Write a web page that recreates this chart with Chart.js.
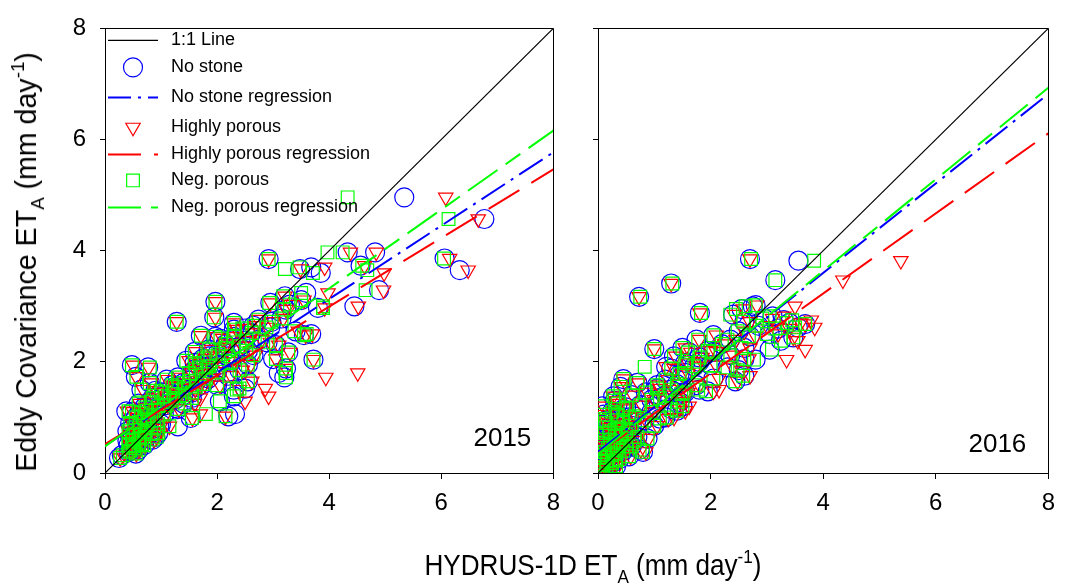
<!DOCTYPE html>
<html>
<head>
<meta charset="utf-8">
<script src="https://cdn.jsdelivr.net/npm/chart.js@4.4.0/dist/chart.umd.min.js"></script>
<style>
  body { margin: 0; background: #fff; width: 1065px; height: 588px; overflow: hidden; position: relative;
         font-family: 'Liberation Sans', Arial, sans-serif; }
  .panel { position: absolute; top: 0; height: 588px; }
  #left { left: 0; width: 570px; }
  #right { left: 560px; width: 505px; }
  .title { position: absolute; font-size: 29px; color: #000; white-space: nowrap; text-align: center; }
  .title .sub { font-size: 19px; position: relative; top: 8px; }
  .title .sup { font-size: 19px; position: relative; top: -12px; }
  #xtitle { left: 343px; width: 500px; top: 551px; line-height: 29px; transform: scaleX(0.9); }
  #ytitle { left: -222px; top: 243px; width: 500px; line-height: 34px; transform: rotate(-90deg) scaleX(0.985); }
</style>
</head>
<body>
<div class="panel" id="left"><canvas id="chart2015"></canvas></div>
<div class="panel" id="right"><canvas id="chart2016"></canvas></div>
<div class="title" id="ytitle">Eddy Covariance ET<span class="sub">A</span> (mm day<span class="sup">-1</span>)</div>
<div class="title" id="xtitle">HYDRUS-1D ET<span class="sub">A</span> (mm day<span class="sup">-1</span>)</div>
<script>
const tickVals = [0, 2, 4, 6, 8]

// 2015: eddy covariance ET (y) and HYDRUS ET (x) for each stone treatment
const ec2015 = [4.96,4.57,3.86,3.65,3.97,3.97,3.73,3.60,3.67,3.85,3.70,3.29,3.00,2.97,3.24,3.11,2.04,1.80,1.72,1.88,
  2.17,1.52,1.38,1.29,1.02,0.99,0.84,1.06,2.72,3.08,2.80,2.47,2.45,1.94,1.90,1.73,1.11,0.27,
  3.06,3.18,3.03,2.94,2.76,2.70,2.72,2.78,2.60,2.55,2.48,2.50,2.45,2.40,2.35,2.62,2.28,2.20,2.30,2.10,2.12,2.25,2.05,
  2.18,2.10,2.02,1.95,1.90,1.85,1.80,1.75,1.70,1.65,1.62,1.58,1.55,1.50,2.00,1.95,
  1.68,1.62,1.55,1.50,1.45,1.40,1.35,1.30,1.25,1.20,1.15,1.12,1.05,1.45,1.00,
  0.95,0.90,0.85,0.80,0.75,0.70,0.65,0.60,0.55,0.50,0.45,0.40,0.35,0.60,0.72,0.88,0.50,1.10,
  0.32,0.38,0.42,0.48,0.52,0.58,0.62,0.68,0.70,0.78,0.82,0.86,0.92,0.98,1.02,1.08,1.14,1.18,0.75,0.65,
  1.22,1.28,1.32,1.38,1.42,1.48,1.52,1.58,1.60,1.66,1.72,1.78,1.82,1.86,1.92,1.98,2.06,2.14,2.22,2.32,
  2.38,2.42,2.52,2.58,2.65,1.35,1.25]
const noStone2015 = [5.34,6.77,6.06,6.33,4.33,4.82,4.56,3.85,3.48,2.92,3.68,4.89,4.45,3.80,3.59,3.50,3.72,3.10,3.20,3.23,
  3.27,2.50,2.30,2.05,2.20,1.53,1.30,2.32,1.28,1.97,1.95,1.71,1.97,0.48,0.77,0.55,0.38,0.25,
  2.95,3.21,3.30,3.23,2.74,2.30,2.97,3.15,2.50,3.40,3.55,3.68,2.30,2.75,2.90,2.95,2.40,2.55,3.05,2.20,2.65,2.12,3.00,
  1.60,1.85,1.45,2.05,1.70,2.40,1.55,2.20,1.85,2.55,1.40,2.00,1.65,2.30,2.25,2.55,
  1.10,0.80,1.25,0.65,1.00,1.40,0.85,1.15,0.60,0.95,1.30,0.75,1.05,1.55,0.55,
  0.78,0.45,0.62,0.88,0.40,0.55,0.70,0.48,0.60,0.42,0.52,0.45,0.55,0.85,0.95,1.00,0.70,0.48,
  0.30,0.42,0.60,0.50,0.65,0.40,0.58,0.48,0.80,0.62,0.50,0.75,0.60,0.68,0.85,0.62,0.90,0.70,0.70,0.90,
  1.10,0.80,1.25,1.05,1.20,0.90,1.40,1.20,1.75,1.50,1.30,1.75,2.00,1.60,1.85,1.60,1.75,2.00,1.85,2.15,
  2.50,2.05,2.60,2.30,2.65,1.55,1.40]
const highPor2015 = [6.08,6.66,6.15,6.48,4.38,4.84,4.63,4.98,3.49,2.92,3.92,4.97,4.52,3.92,3.98,3.55,3.72,4.51,3.94,3.23,
  3.30,2.86,2.92,2.50,2.15,1.56,1.15,1.70,1.28,1.97,1.97,1.71,1.99,0.50,0.78,0.56,0.40,0.27,
  2.95,3.21,3.32,3.23,2.74,2.30,3.00,3.18,2.50,3.45,3.58,3.70,2.32,2.80,2.95,2.90,2.45,2.60,3.10,2.25,2.68,2.12,3.05,
  1.62,1.90,1.50,2.10,1.72,2.45,1.55,2.25,1.90,2.62,1.42,2.05,1.68,2.40,2.30,2.60,
  1.12,0.82,1.28,0.68,1.05,1.42,0.88,1.20,0.62,0.98,1.32,0.78,1.08,1.58,0.58,
  0.80,0.48,0.65,0.90,0.42,0.58,0.72,0.50,0.62,0.45,0.55,0.48,0.56,0.88,0.98,1.02,0.72,0.50,
  0.32,0.44,0.62,0.52,0.66,0.42,0.60,0.50,0.82,0.64,0.52,0.78,0.62,0.70,0.88,0.64,0.92,0.72,0.72,0.92,
  1.12,0.82,1.28,1.08,1.25,0.92,1.45,1.22,1.78,1.52,1.32,1.80,2.05,1.62,1.90,1.62,1.80,2.05,1.90,2.20,
  2.55,2.10,2.65,2.35,2.70,1.70,1.60]
const negPor2015 = [4.33,6.13,6.05,4.68,4.24,3.97,4.59,3.71,3.21,2.92,3.47,4.65,3.89,3.89,3.50,3.50,3.72,3.22,3.23,3.23,
  3.27,2.40,2.30,2.05,2.15,1.55,1.15,1.80,1.28,1.97,1.94,1.71,1.97,0.48,0.80,0.56,0.42,0.27,
  2.93,3.18,3.30,3.20,2.74,2.30,2.97,3.15,2.45,3.38,3.55,3.60,2.30,2.75,2.90,2.88,2.40,2.52,3.05,2.20,2.65,2.15,3.05,
  1.60,1.88,1.45,2.05,1.70,2.40,1.50,2.22,1.80,2.55,1.40,2.00,1.62,2.35,2.25,2.55,
  1.10,0.80,1.25,0.65,1.00,1.38,0.85,1.15,0.60,0.95,1.30,0.75,1.05,1.55,0.55,
  0.78,0.45,0.62,0.88,0.42,0.55,0.70,0.48,0.60,0.42,0.52,0.45,0.55,0.85,0.95,0.95,0.70,0.48,
  0.32,0.42,0.60,0.50,0.66,0.42,0.60,0.50,0.82,0.64,0.52,0.76,0.62,0.70,0.86,0.64,0.90,0.72,0.72,0.92,
  1.10,0.82,1.26,1.06,1.22,0.92,1.42,1.20,1.75,1.50,1.30,1.76,2.02,1.62,1.86,1.60,1.76,2.02,1.86,2.16,
  2.52,2.06,2.62,2.32,2.66,1.55,1.42]

// 2016
const ec2016 = [3.85,3.82,3.41,3.17,3.47,2.88,3.00,2.75,2.68,2.44,2.22,2.04,2.23,1.91,1.69,1.38,0.94,0.00,3.02,2.95,2.85,
  2.82,2.78,2.72,2.70,2.65,2.60,2.55,2.50,2.46,2.40,2.38,2.62,
  2.48,2.40,2.32,2.25,2.20,2.17,2.12,2.05,2.00,1.94,1.92,1.90,1.85,1.80,1.75,1.70,1.65,1.58,1.50,1.47,1.42,2.10,2.25,
  1.62,1.58,1.55,1.50,1.45,1.40,1.35,1.30,1.28,1.22,1.18,1.15,1.10,1.05,1.02,1.00,0.95,0.90,0.85,0.82,1.45,
  0.78,0.75,0.72,0.68,0.65,0.60,0.58,0.55,0.50,0.48,0.45,0.42,0.40,0.35,0.32,0.30,0.25,0.22,0.18,0.15,0.12,0.10,0.05,0.62,0.38,0.52,0.28,
  0.05,0.10,0.15,0.20,0.22,0.28,0.32,0.38,0.42,0.45,0.50,0.55,0.60,0.65,0.70,0.75,0.80,0.85,0.90,0.95,
  1.00,1.05,1.10,1.15,1.20,1.25,0.58,0.48,
  1.32,1.40,1.52,1.60,1.68,1.78,1.88,1.98,2.08,2.18,0.98,1.12,1.20]
const noStone2016 = [2.70,3.56,1.30,0.73,3.15,1.81,2.75,3.30,3.68,3.47,3.05,2.80,1.00,1.21,0.45,0.27,0.12,0.22,2.80,2.55,2.40,
  3.10,2.95,2.60,3.40,2.85,3.20,2.50,3.05,2.70,2.35,3.25,3.55,
  2.05,1.75,2.20,1.50,1.95,1.62,2.35,2.60,1.80,2.00,1.71,2.30,2.50,1.55,2.60,2.05,2.44,1.75,1.80,1.95,1.50,1.35,2.60,
  0.70,1.05,0.40,1.30,0.85,0.60,1.10,0.30,1.45,0.75,0.50,1.30,0.95,0.35,0.65,1.20,0.82,0.45,1.00,0.20,1.55,
  0.30,0.55,0.12,0.40,0.70,0.22,0.50,0.08,0.35,0.60,0.18,0.74,0.45,0.28,0.10,0.55,0.38,0.15,0.25,0.05,0.32,0.15,0.08,0.88,0.80,0.05,0.02,
  0.02,0.05,0.10,0.08,0.30,0.18,0.25,0.12,0.35,0.05,0.22,0.40,0.10,0.30,0.50,0.20,0.40,0.60,0.15,0.35,
  0.55,0.10,0.25,0.45,0.08,0.35,0.65,0.50,
  0.95,1.20,1.05,1.40,1.20,1.45,1.30,1.55,1.80,2.05,1.10,1.40,1.50]
const highPor2016 = [2.70,5.38,1.30,0.73,4.35,1.81,3.50,3.79,3.68,3.47,3.68,3.35,1.00,1.21,0.45,0.27,0.12,0.22,2.82,2.58,2.42,
  3.30,3.10,2.70,3.60,3.00,3.40,2.60,3.20,2.80,2.45,3.55,3.85,
  2.10,1.80,2.25,1.55,2.00,1.65,2.40,2.68,1.85,2.10,1.75,2.40,2.55,1.60,2.70,2.15,2.48,1.80,2.15,2.05,1.55,1.38,2.70,
  0.72,1.08,0.42,1.35,0.88,0.62,1.15,0.32,1.50,0.78,0.52,1.45,1.00,0.38,0.68,1.35,0.85,0.48,1.05,0.22,1.60,
  0.32,0.58,0.12,0.42,0.72,0.24,0.52,0.10,0.38,0.62,0.20,0.76,0.48,0.30,0.12,0.58,0.40,0.18,0.28,0.08,0.35,0.18,0.10,0.90,0.85,0.06,0.03,
  0.03,0.06,0.12,0.10,0.32,0.20,0.28,0.14,0.38,0.06,0.24,0.42,0.12,0.32,0.52,0.22,0.42,0.62,0.16,0.38,
  0.58,0.12,0.28,0.48,0.10,0.38,0.68,0.55,
  1.00,1.25,1.10,1.45,1.25,1.50,1.35,1.60,1.85,2.10,1.25,1.55,1.62]
const negPor2016 = [2.72,3.84,1.32,0.75,3.15,1.83,2.62,3.45,3.68,3.47,3.09,2.77,1.00,0.83,0.45,0.27,0.12,0.22,2.80,2.45,2.35,
  3.05,2.92,2.58,3.35,2.82,3.15,2.48,3.00,2.68,2.30,3.25,3.50,
  2.05,1.78,2.20,1.50,1.95,1.60,2.35,2.60,1.80,2.00,1.71,2.30,2.48,1.55,2.58,2.05,2.44,1.75,1.78,1.92,1.48,1.35,2.55,
  0.70,1.05,0.40,1.30,0.85,0.60,1.10,0.30,1.42,0.75,0.50,1.30,0.95,0.35,0.65,1.22,0.82,0.45,1.00,0.20,1.52,
  0.30,0.55,0.12,0.40,0.70,0.22,0.50,0.08,0.35,0.60,0.18,0.74,0.45,0.28,0.10,0.55,0.38,0.15,0.25,0.05,0.32,0.15,0.08,0.88,0.80,0.05,0.02,
  0.02,0.05,0.10,0.08,0.30,0.18,0.25,0.12,0.35,0.05,0.22,0.40,0.10,0.30,0.50,0.20,0.40,0.60,0.15,0.35,
  0.55,0.10,0.25,0.45,0.08,0.35,0.65,0.50,
  0.95,1.20,1.05,1.40,1.20,1.45,1.30,1.55,1.80,2.05,1.10,1.40,1.50]

// regression lines: no stone, highly porous, neg. porous
const intercept2015 = [0.49, 0.52, 0.48]
const slope2015 = [0.66, 0.618, 0.71]
const intercept2016 = [0.38, 0.35, 0.34]
const slope2016 = [0.805, 0.72, 0.824]

const FONT = "'Liberation Sans', Arial, sans-serif"
const BLUE = '#0000ff', RED = '#ff0000', GREEN = '#00ff00'
const DASH_BLUE = [28, 7, 3, 7], DASH_RED = [36, 14], DASH_GREEN = [36, 10, 18, 10]

function pts(xs, ys) {
    return xs.map((x, i) => ({ x: x, y: ys[i] }))
}

function markerSet(label, data, style, color, radius, rotation, order) {
    return {
        label: label, data: data, order: order, showLine: false,
        pointStyle: style, pointRadius: radius, pointRotation: rotation,
        pointBorderColor: color, pointBackgroundColor: 'rgba(0,0,0,0)', pointBorderWidth: 1.2
    }
}

function fitLine(label, a, b, color, dash, order) {
    const ends = [tickVals[0], tickVals[tickVals.length - 1]]
    return {
        label: label, data: ends.map(x => ({ x: x, y: a + b * x })), order: order, showLine: true,
        borderColor: color, borderWidth: 2, borderDash: dash, pointRadius: 0, fill: false
    }
}

const legendItems = [
    { text: '1:1 Line', line: '#000', dash: [], w: 1.2, dy: 12 },
    { text: 'No stone', marker: 'circle', color: BLUE, r: 9.5, rot: 0, dy: 39 },
    { text: 'No stone regression', line: BLUE, dash: [23, 7, 3, 7], w: 2, dy: 69 },
    { text: 'Highly porous', marker: 'triangle', color: RED, r: 8.3, rot: 180, dy: 99 },
    { text: 'Highly porous regression', line: RED, dash: [33, 13], w: 2, dy: 126 },
    { text: 'Neg. porous', marker: 'rect', color: GREEN, r: 9, rot: 0, dy: 152 },
    { text: 'Neg. porous regression', line: GREEN, dash: [33, 10, 13, 10], w: 2, dy: 179 }
]

const framePlugin = {
    id: 'frame',
    afterDraw(chart, args, opts) {
        const ctx = chart.ctx, a = chart.chartArea
        ctx.save()
        ctx.strokeStyle = '#000'
        ctx.lineWidth = 1
        ctx.beginPath()
        ctx.moveTo(Math.round(a.left) + 0.5, Math.round(a.top) + 0.5)
        ctx.lineTo(Math.round(a.right) + 0.5, Math.round(a.top) + 0.5)
        ctx.lineTo(Math.round(a.right) + 0.5, Math.round(a.bottom) + 0.5)
        ctx.stroke()
        // year label
        ctx.fillStyle = '#000'
        ctx.font = '26px ' + FONT
        ctx.textAlign = 'right'
        ctx.textBaseline = 'middle'
        ctx.fillText(opts.year, a.right - 22, a.bottom - opts.yearOffset)
        // legend
        if (opts.legend) {
            ctx.font = '18px ' + FONT
            ctx.textAlign = 'left'
            legendItems.forEach(it => {
                const y = a.top + it.dy
                if (it.line) {
                    ctx.save()
                    ctx.strokeStyle = it.line
                    ctx.lineWidth = it.w
                    ctx.setLineDash(it.dash)
                    ctx.beginPath()
                    ctx.moveTo(a.left + 3, y)
                    ctx.lineTo(a.left + 53, y)
                    ctx.stroke()
                    ctx.restore()
                } else {
                    ctx.save()
                    ctx.strokeStyle = it.color
                    ctx.fillStyle = 'rgba(0,0,0,0)'
                    ctx.lineWidth = 1.2
                    Chart.helpers.drawPoint(ctx, { pointStyle: it.marker, radius: it.r, rotation: it.rot, borderWidth: 1.2 }, a.left + 28, y)
                    ctx.restore()
                }
                ctx.fillStyle = '#000'
                ctx.fillText(it.text, a.left + 66, y)
            })
        }
        ctx.restore()
    }
}

function makeChart(id, year, ec, ns, hp, np, icpt, slp, cfg) {
    const datasets = [
        fitLine('1:1 Line', 0, 1, '#000', [], 0),
        fitLine('Neg. porous regression', icpt[2], slp[2], GREEN, DASH_GREEN, 1),
        fitLine('Highly porous regression', icpt[1], slp[1], RED, DASH_RED, 2),
        fitLine('No stone regression', icpt[0], slp[0], BLUE, DASH_BLUE, 3),
        markerSet('Neg. porous', pts(np, ec), 'rect', GREEN, 9, 0, 4),
        markerSet('Highly porous', pts(hp, ec), 'triangle', RED, 8.3, 180, 5),
        markerSet('No stone', pts(ns, ec), 'circle', BLUE, 9.5, 0, 6)
    ]
    datasets[0].borderWidth = 1.2
    const tickFont = { family: FONT, size: 24 }
    return new Chart(document.getElementById(id), {
        type: 'scatter',
        data: { datasets: datasets },
        options: {
            responsive: true,
            maintainAspectRatio: false,
            animation: false,
            events: [],
            layout: { padding: { left: 0, right: cfg.padRight, top: 20, bottom: 0 } },
            plugins: {
                legend: { display: false },
                tooltip: { enabled: false },
                frame: { year: year, yearOffset: cfg.yearOffset, legend: cfg.legend }
            },
            scales: {
                x: {
                    type: 'linear', min: 0, max: 8,
                    afterBuildTicks: s => { s.ticks = tickVals.map(v => ({ value: v })) },
                    ticks: { font: tickFont, color: '#000', padding: 10, maxRotation: 0 },
                    grid: { drawOnChartArea: false, drawTicks: true, tickLength: 6, color: '#000', lineWidth: 1 },
                    border: { display: true, color: '#000', width: 1 },
                    afterFit: s => { s.height = 115 }
                },
                y: {
                    type: 'linear', min: 0, max: 8,
                    afterBuildTicks: s => { s.ticks = tickVals.map(v => ({ value: v })) },
                    ticks: { font: tickFont, color: '#000', padding: 14,
                             callback: v => cfg.yLabels ? String(v) : '' },
                    grid: { drawOnChartArea: false, drawTicks: true, tickLength: 5, color: '#000', lineWidth: 1 },
                    border: { display: true, color: '#000', width: 1 },
                    afterFit: s => { s.width = cfg.yWidth }
                }
            }
        },
        plugins: [framePlugin]
    })
}

makeChart('chart2015', '2015', ec2015, noStone2015, highPor2015, negPor2015, intercept2015, slope2015,
    { padRight: 13, yWidth: 105, yLabels: true, legend: true, yearOffset: 34 })
makeChart('chart2016', '2016', ec2016, noStone2016, highPor2016, negPor2016, intercept2016, slope2016,
    { padRight: 12, yWidth: 38, yLabels: false, legend: false, yearOffset: 28 })
</script>
</body>
</html>
